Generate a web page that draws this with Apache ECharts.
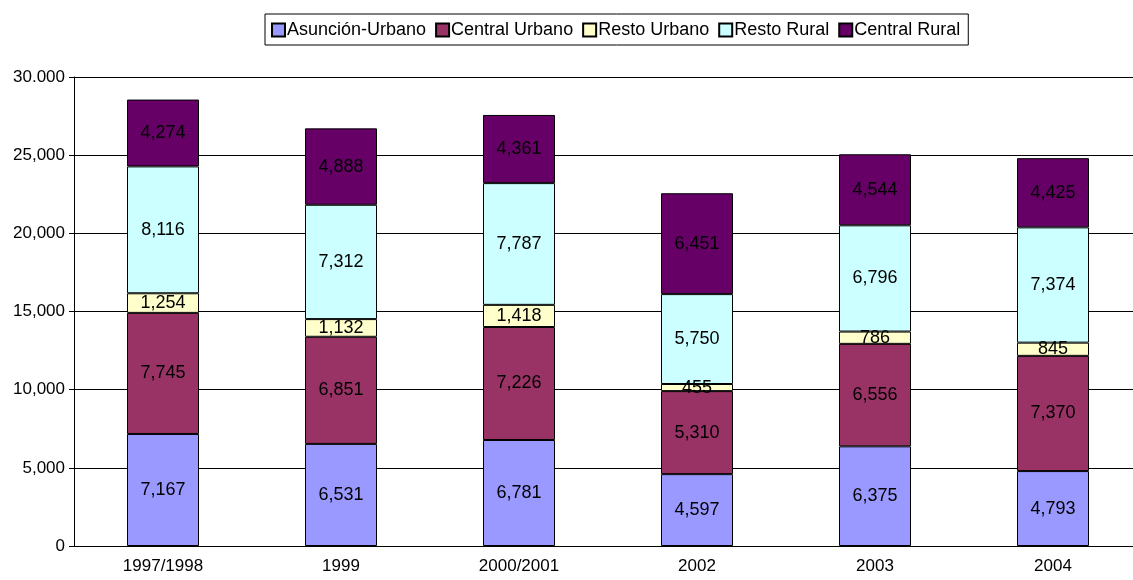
<!DOCTYPE html>
<html>
<head>
<meta charset="utf-8">
<script src="https://cdn.jsdelivr.net/npm/echarts@6/dist/echarts.min.js"></script>
<style>
  html, body { margin: 0; padding: 0; background: #fff; }
  #bar { width: 1133px; height: 580px; }
</style>
</head>
<body>
<div id="bar"></div>
<script>
const years = ["1997/1998", "1999", "2000/2001", "2002", "2003", "2004"];
const asuncionUrbano = [7167, 6531, 6781, 4597, 6375, 4793];
const centralUrbano = [7745, 6851, 7226, 5310, 6556, 7370];
const restoUrbano = [1254, 1132, 1418, 455, 786, 845];
const restoRural = [8116, 7312, 7787, 5750, 6796, 7374];
const centralRural = [4274, 4888, 4361, 6451, 4544, 4425];
const yTickLabels = ["0", "5,000", "10,000", "15,000", "20,000", "25,000", "30.000"];

const fontName = "'Liberation Sans', Arial, sans-serif";
const fmt = function (v) {
  return v.toLocaleString("en-US");
};

function makeSeries(name, data, color) {
  return {
    name: name,
    type: "bar",
    stack: "total",
    data: data,
    barWidth: 72,
    itemStyle: { color: color, borderColor: "#000", borderWidth: 1 },
    label: {
      show: true,
      position: "inside",
      color: "#000",
      fontFamily: fontName,
      fontSize: 18,
      formatter: function (p) { return fmt(p.value); }
    }
  };
}

const charts = echarts.init(document.getElementById("bar"));
const option = {
  animation: false,
  textStyle: { fontFamily: fontName },
  legend: {
    top: 14,
    left: 265,
    icon: "rect",
    itemWidth: 13,
    itemHeight: 13,
    itemGap: 9,
    borderColor: "#000",
    borderWidth: 1,
    padding: [7, 8, 6, 6],
    textStyle: { color: "#000", fontSize: 18, fontFamily: fontName, padding: [0, 0, 0, -3] }
  },
  grid: { left: 74, top: 77, width: 1068, height: 469, outerBoundsMode: "none", containLabel: false },
  xAxis: {
    type: "category",
    data: years,
    axisLine: { lineStyle: { color: "#000" } },
    axisTick: { show: false },
    axisLabel: { color: "#000", fontSize: 17, margin: 12, fontFamily: fontName }
  },
  yAxis: {
    type: "value",
    min: 0,
    max: 30000,
    interval: 5000,
    axisLine: { show: true, lineStyle: { color: "#000" } },
    axisTick: { show: true, length: 5, lineStyle: { color: "#000" } },
    splitLine: { lineStyle: { color: "#000", width: 1 } },
    axisLabel: {
      color: "#000",
      fontSize: 17,
      margin: 9,
      fontFamily: fontName,
      formatter: function (v) { return yTickLabels[Math.round(v / 5000)]; }
    }
  },
  series: [
    makeSeries("Asunción-Urbano", asuncionUrbano, "#9999FF"),
    makeSeries("Central Urbano", centralUrbano, "#993366"),
    makeSeries("Resto Urbano", restoUrbano, "#FFFFCC"),
    makeSeries("Resto Rural", restoRural, "#CCFFFF"),
    makeSeries("Central Rural", centralRural, "#660066")
  ]
};
charts.setOption(option);
window.addEventListener("resize", () => {
  charts.resize();
});
</script>
</body>
</html>
